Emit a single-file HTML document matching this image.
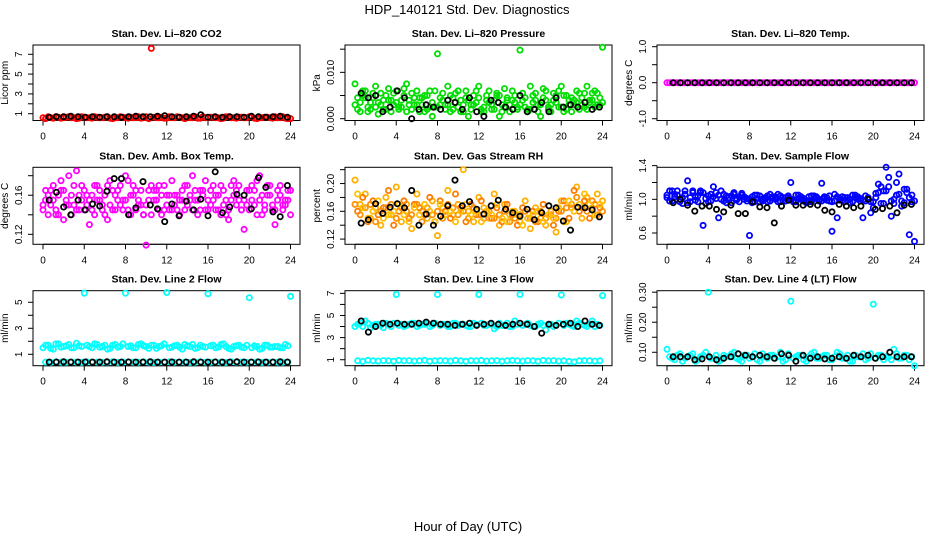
<!DOCTYPE html>
<html><head><meta charset="utf-8"><style>
html,body{margin:0;padding:0;background:#fff;}
svg{display:block;font-family:"Liberation Sans",Arial,sans-serif;}
</style></head><body>
<svg id="chart" width="936" height="540" viewBox="0 0 936 540" xmlns="http://www.w3.org/2000/svg">
<text x="467" y="14" font-size="13" text-anchor="middle">HDP_140121  Std. Dev. Diagnostics</text>
<text x="468" y="531" font-size="13" text-anchor="middle">Hour of Day (UTC)</text>
</svg>
<script>
const hoursA=[0,0.5,1,1.5,2,2.5,3,3.5,4,4.5,5,5.5,6,6.5,7,7.5,8,8.5,9,9.5,10,10.5,11,11.5,12,12.5,13,13.5,14,14.5,15,15.5,16,16.5,17,17.5,18,18.5,19,19.5,20,20.5,21,21.5,22,22.5,23,23.5,24];
const hoursB=[0.25,0.75,1.25,1.75,2.25,2.75,3.25,3.75,4.25,4.75,5.25,5.75,6.25,6.75,7.25,7.75,8.25,8.75,9.25,9.75,10.25,10.75,11.25,11.75,12.25,12.75,13.25,13.75,14.25,14.75,15.25,15.75,16.25,16.75,17.25,17.75,18.25,18.75,19.25,19.75,20.25,20.75,21.25,21.75,22.25,22.75,23.25,23.75];
const hoursK=[0.6,1.3,2.0,2.7,3.4,4.1,4.8,5.5,6.2,6.9,7.6,8.3,9.0,9.7,10.4,11.1,11.8,12.5,13.2,13.9,14.6,15.3,16.0,16.7,17.4,18.1,18.8,19.5,20.2,20.9,21.6,22.3,23.0,23.7];

const co2A=[0.6,0.7,0.55,0.65,0.6,0.7,0.6,0.55,0.65,0.6,0.7,0.6,0.65,0.55,0.6,0.7,0.6,0.65,0.6,0.55,0.7,7.6,0.6,0.65,0.55,0.6,0.7,0.6,0.65,0.6,0.55,0.7,0.6,0.65,0.6,0.55,0.7,0.6,0.65,0.6,0.7,0.55,0.6,0.65,0.6,0.7,0.6,0.55,0.5];
const co2B=[0.5,0.6,0.7,0.55,0.65,0.6,0.5,0.7,0.6,0.55,0.65,0.6,0.7,0.5,0.6,0.65,0.55,0.6,0.7,0.6,0.5,0.65,0.6,0.55,0.7,0.6,0.65,0.5,0.6,0.7,0.55,0.6,0.65,0.6,0.5,0.7,0.6,0.55,0.65,0.6,0.7,0.5,0.6,0.65,0.55,0.6,0.7,0.5];
const co2K=[0.65,0.7,0.7,0.75,0.7,0.65,0.7,0.65,0.7,0.7,0.65,0.7,0.75,0.7,0.7,0.75,0.8,0.7,0.65,0.7,0.75,0.9,0.65,0.7,0.65,0.7,0.7,0.65,0.75,0.7,0.65,0.7,0.75,0.65];

const presA=[0.0075,0.0035,0.006,0.002,0.007,0.003,0.005,0.0015,0.006,0.004,0.0075,0.002,0.006,0.003,0.005,0.0005,0.014,0.004,0.007,0.002,0.006,0.003,0.0005,0.005,0.007,0.0025,0.006,0.004,0.0005,0.0065,0.003,0.005,0.0148,0.0025,0.007,0.004,0.0005,0.006,0.003,0.005,0.007,0.002,0.0045,0.006,0.003,0.007,0.004,0.0055,0.0154];
const presB=[0.002,0.005,0.0025,0.0045,0.001,0.004,0.0065,0.003,0.002,0.005,0.003,0.0045,0.0015,0.005,0.0025,0.006,0.003,0.002,0.005,0.0035,0.0015,0.0045,0.003,0.006,0.002,0.004,0.003,0.005,0.0015,0.004,0.006,0.002,0.004,0.0015,0.005,0.003,0.0065,0.002,0.004,0.0025,0.005,0.003,0.004,0.0055,0.0025,0.004,0.006,0.003];
const presC=[0.003,0.0015,0.0045,0.0035,0.0025,0.0055,0.002,0.004,0.0035,0.0025,0.0015,0.0055,0.003,0.0045,0.002,0.0035,0.0025,0.0055,0.003,0.0045,0.0025,0.0015,0.004,0.003,0.0045,0.0015,0.0035,0.002,0.005,0.0025,0.0015,0.0035,0.003,0.0045,0.002,0.0055,0.003,0.004,0.0015,0.0035,0.0025,0.005,0.0015,0.0035,0.0045,0.002,0.0055,0.003,0.0035];
const presD=[0.0045,0.006,0.0015,0.0055,0.0035,0.002,0.004,0.0055,0.0025,0.0065,0.004,0.003,0.0045,0.0015,0.006,0.0025,0.0045,0.003,0.0015,0.0055,0.004,0.006,0.002,0.0035,0.0015,0.005,0.002,0.0055,0.003,0.0045,0.004,0.0025,0.0055,0.002,0.0035,0.0015,0.0045,0.0025,0.0055,0.006,0.0015,0.004,0.003,0.002,0.0055,0.0035,0.0025,0.0045];
const presK=[0.0055,0.0045,0.005,0.0015,0.0025,0.006,0.0045,0.0,0.002,0.003,0.0025,0.002,0.004,0.0035,0.002,0.0045,0.0015,0.0005,0.004,0.0035,0.0025,0.002,0.005,0.0015,0.002,0.0035,0.0015,0.0045,0.0025,0.003,0.0025,0.0035,0.002,0.0025];

const tempA=[0,0,0,0,0,0,0,0,0,0,0,0,0,0,0,0,0,0,0,0,0,0,0,0,0,0,0,0,0,0,0,0,0,0,0,0,0,0,0,0,0,0,0,0,0,0,0,0,0];
const tempB=[0,0,0,0,0,0,0,0,0,0,0,0,0,0,0,0,0,0,0,0,0,0,0,0,0,0,0,0,0,0,0,0,0,0,0,0,0,0,0,0,0,0,0,0,0,0,0,0];
const tempK=[0,0,0,0,0,0,0,0,0,0,0,0,0,0,0,0,0,0,0,0,0,0,0,0,0,0,0,0,0,0,0,0,0,0];

const boxA=[0.15,0.14,0.17,0.16,0.135,0.18,0.15,0.145,0.165,0.13,0.17,0.155,0.14,0.175,0.16,0.15,0.18,0.14,0.165,0.15,0.109,0.17,0.155,0.14,0.16,0.175,0.145,0.165,0.15,0.18,0.14,0.16,0.155,0.17,0.145,0.165,0.135,0.175,0.155,0.125,0.165,0.15,0.18,0.145,0.16,0.13,0.17,0.155,0.14];
const boxB=[0.155,0.165,0.145,0.175,0.15,0.14,0.185,0.155,0.16,0.145,0.17,0.15,0.135,0.165,0.155,0.145,0.175,0.16,0.15,0.14,0.165,0.155,0.17,0.145,0.16,0.15,0.14,0.17,0.155,0.165,0.145,0.175,0.15,0.16,0.14,0.155,0.17,0.15,0.145,0.165,0.155,0.175,0.14,0.16,0.15,0.165,0.145,0.155];
const boxC=[0.145,0.16,0.155,0.14,0.165,0.15,0.17,0.16,0.145,0.155,0.14,0.165,0.16,0.15,0.145,0.17,0.155,0.16,0.145,0.165,0.15,0.14,0.165,0.16,0.15,0.145,0.16,0.155,0.17,0.145,0.155,0.165,0.145,0.155,0.16,0.15,0.145,0.16,0.17,0.155,0.145,0.165,0.155,0.15,0.17,0.145,0.16,0.15,0.165];
const boxD=[0.165,0.15,0.14,0.165,0.155,0.16,0.145,0.17,0.15,0.16,0.155,0.145,0.17,0.145,0.165,0.155,0.145,0.17,0.155,0.14,0.155,0.165,0.145,0.17,0.145,0.16,0.155,0.145,0.16,0.155,0.165,0.145,0.165,0.145,0.17,0.14,0.155,0.165,0.145,0.15,0.17,0.14,0.16,0.17,0.145,0.155,0.15,0.165];
const boxK=[0.155,0.163,0.148,0.14,0.155,0.145,0.151,0.149,0.164,0.177,0.177,0.14,0.147,0.174,0.15,0.146,0.133,0.151,0.139,0.154,0.145,0.156,0.139,0.184,0.142,0.148,0.161,0.16,0.146,0.178,0.168,0.143,0.138,0.17];

const rhA=[0.205,0.17,0.185,0.15,0.165,0.14,0.18,0.155,0.195,0.145,0.17,0.135,0.185,0.16,0.15,0.175,0.125,0.165,0.19,0.155,0.17,0.22,0.16,0.145,0.18,0.165,0.15,0.185,0.14,0.17,0.155,0.16,0.145,0.175,0.135,0.165,0.15,0.14,0.16,0.13,0.175,0.145,0.165,0.195,0.15,0.18,0.165,0.185,0.175];
const rhB=[0.16,0.18,0.145,0.175,0.155,0.165,0.19,0.14,0.16,0.175,0.15,0.17,0.165,0.155,0.18,0.145,0.175,0.16,0.15,0.185,0.165,0.145,0.17,0.155,0.175,0.16,0.15,0.165,0.145,0.17,0.155,0.14,0.165,0.15,0.16,0.145,0.17,0.155,0.14,0.16,0.175,0.15,0.19,0.16,0.175,0.15,0.17,0.165];
const rhC=[0.17,0.155,0.165,0.17,0.145,0.16,0.165,0.17,0.15,0.165,0.16,0.155,0.17,0.145,0.165,0.155,0.16,0.15,0.17,0.165,0.155,0.16,0.15,0.165,0.155,0.15,0.16,0.15,0.155,0.16,0.145,0.15,0.155,0.16,0.15,0.145,0.16,0.15,0.155,0.15,0.16,0.165,0.17,0.18,0.165,0.16,0.175,0.155,0.16];
const rhD=[0.185,0.165,0.15,0.16,0.175,0.15,0.155,0.16,0.17,0.155,0.145,0.165,0.155,0.17,0.16,0.145,0.17,0.155,0.16,0.145,0.16,0.17,0.155,0.16,0.145,0.16,0.155,0.17,0.15,0.145,0.16,0.155,0.14,0.15,0.155,0.16,0.145,0.155,0.15,0.165,0.145,0.175,0.16,0.17,0.185,0.17,0.155,0.17];
const rhK=[0.143,0.148,0.171,0.157,0.166,0.171,0.165,0.19,0.14,0.156,0.14,0.153,0.168,0.205,0.168,0.174,0.163,0.156,0.168,0.176,0.163,0.158,0.153,0.163,0.148,0.158,0.168,0.165,0.146,0.133,0.166,0.165,0.162,0.152];

const flowA=[1.02,1.1,1.05,0.95,1.22,1.08,0.97,0.69,1.04,1.15,0.78,1.06,0.99,1.08,1.03,1.0,0.57,1.05,0.97,1.02,1.06,1.0,1.04,0.98,1.2,1.05,1.0,0.96,1.04,1.02,1.19,0.99,0.62,0.78,1.03,0.99,1.05,1.0,0.78,1.02,0.9,1.18,1.1,1.26,0.95,1.3,1.12,0.58,0.5];
const flowB=[0.98,1.06,1.0,1.1,0.97,1.03,1.08,0.95,1.06,1.01,1.1,0.96,1.04,0.99,1.07,1.01,0.96,1.05,1.0,0.97,1.03,1.06,0.99,1.02,0.98,1.05,1.01,0.97,1.04,1.0,1.03,0.98,1.06,0.99,1.02,0.96,1.05,1.01,0.98,0.84,1.07,1.15,1.38,0.8,1.2,0.98,1.12,1.05];
const flowC=[1.05,0.98,1.1,1.02,0.96,1.1,1.04,1.08,0.97,1.03,1.05,0.98,1.02,1.06,0.97,1.03,1.0,0.97,1.04,1.0,0.98,1.03,0.97,1.02,1.0,0.97,1.03,0.99,0.97,1.03,0.98,1.02,0.97,1.03,0.99,1.02,0.97,1.03,0.99,1.0,0.97,1.08,0.95,1.15,1.0,1.06,0.96,1.02,0.98];
const flowD=[1.1,1.03,0.97,1.06,1.02,0.99,1.1,1.01,0.98,1.08,1.0,1.04,0.96,1.01,1.05,0.98,1.03,1.01,0.98,1.04,1.01,0.97,1.02,1.04,0.97,1.01,0.98,1.03,1.01,0.98,1.01,1.04,0.98,1.01,0.97,1.0,1.02,0.98,1.04,0.97,1.02,0.95,1.1,0.98,1.05,0.92,1.08,0.97];
const flowK=[0.96,1.0,0.93,0.86,0.92,0.92,0.88,0.85,0.93,0.83,0.83,0.97,0.91,0.9,0.72,0.92,0.99,0.93,0.93,0.94,0.93,0.87,0.85,0.94,0.92,0.9,0.92,1.0,0.88,0.89,0.92,0.84,0.93,0.94];

const l2A=[1.5,1.7,1.4,1.8,1.6,1.75,1.5,1.65,5.7,1.6,1.8,1.55,1.7,1.45,1.75,1.6,5.7,1.65,1.5,1.8,1.6,1.7,1.45,1.65,5.75,1.55,1.7,1.4,1.65,1.75,1.5,1.6,5.65,1.7,1.55,1.8,1.45,1.6,1.7,1.5,5.35,1.65,1.4,1.7,1.55,1.6,1.5,1.75,5.45];
const l2B=[1.7,1.45,1.8,1.55,1.65,1.5,1.85,1.6,1.7,1.5,1.75,1.6,1.4,1.7,1.55,1.8,1.6,1.5,1.75,1.65,1.45,1.7,1.6,1.8,1.5,1.65,1.55,1.75,1.6,1.45,1.7,1.55,1.65,1.5,1.75,1.6,1.4,1.65,1.55,1.7,1.5,1.6,1.45,1.7,1.55,1.6,1.5,1.65];
const l2C=[0.4,0.38,0.42,0.4,0.39,0.41,0.4,0.38,0.42,0.4,0.41,0.39,0.4,0.42,0.38,0.4,0.41,0.4,0.39,0.42,0.4,0.38,0.41,0.4,0.42,0.39,0.4,0.41,0.38,0.4,0.42,0.4,0.39,0.41,0.4,0.38,0.42,0.4,0.41,0.39,0.4,0.42,0.38,0.4,0.41,0.4,0.39,0.4];
const l2K=[0.4,0.4,0.42,0.4,0.4,0.41,0.4,0.4,0.42,0.4,0.4,0.41,0.4,0.4,0.42,0.4,0.4,0.41,0.4,0.4,0.42,0.4,0.4,0.41,0.4,0.4,0.42,0.4,0.4,0.41,0.4,0.4,0.42,0.4];

const l3A=[4.0,4.3,4.5,3.9,4.2,4.1,4.3,4.0,6.9,4.2,4.1,4.3,4.0,4.2,4.3,4.1,6.9,4.2,4.0,4.3,4.1,4.2,4.0,4.3,6.9,4.1,4.2,3.8,4.3,4.1,4.0,4.5,6.9,4.2,4.1,4.0,4.3,3.7,4.2,4.1,6.85,4.3,4.1,4.5,4.2,4.0,4.5,4.2,6.8];
const l3B=[4.2,4.0,4.3,4.1,4.2,3.9,4.2,4.3,4.1,4.0,4.2,4.3,4.1,4.2,4.0,4.3,4.1,4.2,4.0,4.3,4.2,4.1,4.0,4.2,4.3,4.1,4.2,4.0,4.1,4.3,4.0,4.2,4.1,4.3,4.0,4.2,4.1,4.2,4.0,4.3,4.1,4.2,4.0,4.3,4.1,4.2,4.0,4.1];
const l3C=[0.9,0.85,0.95,0.9,0.88,0.92,0.9,0.86,0.94,0.9,0.92,0.88,0.9,0.95,0.86,0.9,0.92,0.9,0.88,0.94,0.9,0.86,0.92,0.9,0.94,0.88,0.9,0.92,0.86,0.9,0.94,0.9,0.88,0.92,0.9,0.86,0.94,0.9,0.92,0.88,0.9,0.85,0.8,0.9,0.92,0.9,0.88,0.9];
const l3K=[4.5,3.5,4.0,4.3,4.2,4.3,4.2,4.2,4.3,4.4,4.3,4.2,4.2,4.1,4.2,4.3,4.1,4.2,4.3,4.2,4.1,4.2,4.3,4.2,4.0,3.4,4.2,4.1,4.2,4.3,4.0,4.5,4.2,4.1];

const l4A=[0.11,0.08,0.09,0.07,0.085,0.095,0.075,0.09,0.30,0.08,0.07,0.09,0.085,0.1,0.075,0.09,0.08,0.095,0.07,0.085,0.09,0.08,0.1,0.075,0.27,0.085,0.09,0.07,0.095,0.08,0.085,0.09,0.075,0.1,0.08,0.09,0.07,0.085,0.095,0.08,0.26,0.09,0.075,0.085,0.11,0.08,0.09,0.075,0.055];
const l4B=[0.085,0.075,0.095,0.08,0.09,0.07,0.085,0.1,0.08,0.09,0.075,0.085,0.095,0.08,0.07,0.09,0.085,0.075,0.095,0.08,0.09,0.085,0.07,0.095,0.08,0.09,0.075,0.085,0.1,0.08,0.09,0.075,0.085,0.095,0.08,0.07,0.09,0.085,0.075,0.095,0.08,0.09,0.085,0.075,0.095,0.08,0.09,0.085];
const l4K=[0.085,0.085,0.085,0.075,0.078,0.085,0.075,0.08,0.085,0.095,0.09,0.085,0.09,0.085,0.08,0.095,0.09,0.07,0.09,0.08,0.085,0.078,0.08,0.085,0.08,0.09,0.085,0.09,0.08,0.085,0.1,0.085,0.085,0.085];

const xTicks=[0,4,8,12,16,20,24];

const colLeft=[33,345,657], panelW=267;
const rowTB=[[45,120.5],[167.3,244.3],[290.7,365.7]];
const panels=[
 {name:"co2",title:"Stan. Dev. Li-820 CO2",ylab:"Licor ppm",r:0,c:0,dom:[0.313,7.94],ticks:[1,2,3,4,5,6,7],labels:[1,3,5,7],fmt:0,
  series:[[hoursA,co2A,"#ff0000"],[hoursB,co2B,"#ff0000"],[hoursK,co2K,"#000"]]},
 {name:"pressure",title:"Stan. Dev. Li-820 Pressure",ylab:"kPa",r:0,c:1,dom:[-0.00039,0.0159],ticks:[0,0.005,0.01,0.015],labels:[0,0.01],fmt:3,
  series:[[hoursA,presA,"#00dd00"],[hoursB,presB,"#00dd00"],[hoursA,presC,"#00dd00"],[hoursB,presD,"#00dd00"],[hoursK,presK,"#000"]]},
 {name:"temp",title:"Stan. Dev. Li-820 Temp.",ylab:"degrees C",r:0,c:2,dom:[-1.05,1.047],ticks:[-1,-0.5,0,0.5,1],labels:[-1,0,1],fmt:1,
  series:[[hoursA,tempA,"#ff00ff"],[hoursB,tempB,"#ff00ff"],[hoursK,tempK,"#000"]]},
 {name:"box-temp",title:"Stan. Dev. Amb. Box Temp.",ylab:"degrees C",r:1,c:0,dom:[0.1098,0.1886],ticks:[0.12,0.14,0.16,0.18],labels:[0.12,0.16],fmt:2,
  series:[[hoursA,boxA,"#ff00ff"],[hoursB,boxB,"#ff00ff"],[hoursA,boxC,"#ff00ff"],[hoursB,boxD,"#ff00ff"],[hoursK,boxK,"#000"]]},
 {name:"gas-rh",title:"Stan. Dev. Gas Stream RH",ylab:"percent",r:1,c:1,dom:[0.1125,0.2234],ticks:[0.12,0.14,0.16,0.18,0.2,0.22],labels:[0.12,0.16,0.2],fmt:2,
  series:[[hoursA,rhA,"#ffb000"],[hoursB,rhB,"#ff7a00"],[hoursA,rhC,"#ff9000"],[hoursB,rhD,"#ffc000"],[hoursK,rhK,"#000"]]},
 {name:"sample-flow",title:"Stan. Dev. Sample Flow",ylab:"ml/min",r:1,c:2,dom:[0.466,1.38],ticks:[0.6,0.8,1.0,1.2,1.4],labels:[0.6,1.0,1.4],fmt:1,
  series:[[hoursA,flowA,"#0000ff"],[hoursB,flowB,"#0000ff"],[hoursA,flowC,"#0000ff"],[hoursB,flowD,"#0000ff"],[hoursK,flowK,"#000"]]},
 {name:"line2-flow",title:"Stan. Dev. Line 2 Flow",ylab:"ml/min",r:2,c:0,dom:[0.123,5.89],ticks:[1,2,3,4,5],labels:[1,3,5],fmt:0,
  series:[[hoursA,l2A,"#00ffff"],[hoursB,l2B,"#00ffff"],[hoursB,l2C,"#00ffff"],[hoursK,l2K,"#000"]]},
 {name:"line3-flow",title:"Stan. Dev. Line 3 Flow",ylab:"ml/min",r:2,c:1,dom:[0.46,7.24],ticks:[1,2,3,4,5,6,7],labels:[1,3,5,7],fmt:0,
  series:[[hoursA,l3A,"#00ffff"],[hoursB,l3B,"#00ffff"],[hoursB,l3C,"#00ffff"],[hoursK,l3K,"#000"]]},
 {name:"line4-flow",title:"Stan. Dev. Line 4 (LT) Flow",ylab:"ml/min",r:2,c:2,dom:[0.0553,0.305],ticks:[0.1,0.15,0.2,0.25,0.3],labels:[0.1,0.2,0.3],fmt:2,
  series:[[hoursA,l4A,"#00ffff"],[hoursB,l4B,"#00ffff"],[hoursK,l4K,"#000"]]}
];

const NS="http://www.w3.org/2000/svg";
const svg=document.getElementById("chart");
function mk(tag,attrs,parent){const e=document.createElementNS(NS,tag);for(const k in attrs)e.setAttribute(k,attrs[k]);parent.appendChild(e);return e;}

panels.forEach(p=>{
  const L=colLeft[p.c], R=L+panelW, T=rowTB[p.r][0], B=rowTB[p.r][1];
  const xs=h=>L+10+h/24*247.5;
  const ys=v=>B-(v-p.dom[0])/(p.dom[1]-p.dom[0])*(B-T);
  const g=mk("g",{},svg);
  
  
  const t=mk("text",{x:(L+R)/2,y:T-8,"font-size":"10.5","font-weight":"bold","text-anchor":"middle"},g);
  t.textContent=p.title.replace(/-/g,"\u2013");
  
  
  const box=mk("rect",{x:L,y:T,width:panelW,height:B-T,fill:"none",stroke:"#000","stroke-width":"1"},g);
  
  
  const xa=mk("g",{},g);
  
  
  mk("line",{x1:xs(0),x2:xs(24),y1:B,y2:B,stroke:"#000"},xa);
  xTicks.forEach(v=>{
    mk("line",{x1:xs(v),x2:xs(v),y1:B,y2:B+5,stroke:"#000"},xa);
    const tl=mk("text",{x:xs(v),y:B+19,"font-size":"10","text-anchor":"middle"},xa);
    tl.textContent=v;
    
    
  });
  const ya=mk("g",{},g);
  
  
  mk("line",{x1:L,x2:L,y1:ys(p.ticks[0]),y2:ys(p.ticks[p.ticks.length-1]),stroke:"#000"},ya);
  p.ticks.forEach(v=>mk("line",{x1:L-5,x2:L,y1:ys(v),y2:ys(v),stroke:"#000"},ya));
  p.labels.forEach(v=>{
    const y=ys(v), x=L-11;
    const tl=mk("text",{x:x,y:y,"font-size":"10","text-anchor":"middle",transform:`rotate(-90 ${x} ${y})`},ya);
    tl.textContent=v.toFixed(p.fmt);
    
    
  });
  const yl=mk("text",{x:L-25,y:(T+B)/2,"font-size":"10","text-anchor":"middle",transform:`rotate(-90 ${L-25} ${(T+B)/2})`},g);
  yl.textContent=p.ylab;
  
  
  p.series.forEach((s,si)=>{
    const sg=mk("g",{fill:"none",stroke:s[2],"stroke-width":"1.8"},g);
    
    
    const n=Math.min(s[0].length,s[1].length);
    for(let i=0;i<n;i++){
      const c=mk("circle",{cx:xs(s[0][i]).toFixed(1),cy:ys(s[1][i]).toFixed(1),r:"2.6"},sg);
      
      
    }
  });
});
</script>
</body></html>
